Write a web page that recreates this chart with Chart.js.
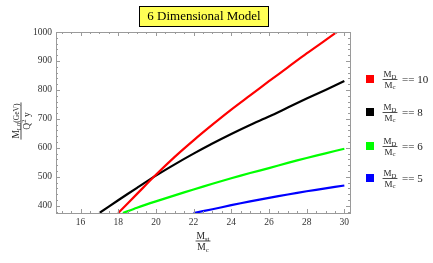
<!DOCTYPE html>
<html>
<head>
<meta charset="utf-8">
<script src="https://cdn.jsdelivr.net/npm/chart.js@4/dist/chart.umd.min.js"></script>
<style>
  html, body { margin: 0; padding: 0; background: #fff; }
  #wrap { width: 433px; height: 263px; }
</style>
</head>
<body>
<div id="wrap"><canvas id="myChart" width="433" height="263"></canvas></div>
<script>
// values
const redX = [18, 19, 20, 21, 22, 23, 24, 25, 26, 27, 28, 29, 30];
const redY = [375, 441, 507, 569, 626, 680, 732, 781, 830, 878, 926, 972, 1018];
const blackX = [17, 18, 19, 20, 21, 22, 23, 24, 25, 26, 27, 28, 29, 30];
const blackY = [375, 419, 462, 504, 543, 580, 615, 648, 679, 708, 739, 770, 800, 831];
const greenX = [18.25, 19, 20, 21, 22, 23, 24, 25, 26, 27, 28, 29, 30];
const greenY = [375, 393, 415, 436, 456, 476, 495, 513, 530, 548, 565, 581, 597];
const blueX = [22, 23, 24, 25, 26, 27, 28, 29, 30];
const blueY = [375, 388, 402, 415, 427, 439, 450, 460, 470];

const legendValues = ['10', '8', '6', '5'];
const colors = ['#ff0000', '#000000', '#00ff00', '#0000ff'];
const xTicks = [16, 18, 20, 22, 24, 26, 28, 30];
const yTicks = [400, 500, 600, 700, 800, 900, 1000];

const pts = (xs, ys) => xs.map((x, i) => ({ x: x, y: ys[i] }));
const serif = '"Liberation Serif", "DejaVu Serif", serif';

const series = [pts(redX, redY), pts(blackX, blackY), pts(greenX, greenY), pts(blueX, blueY)];

const data = {
  datasets: series.map((s, i) => ({
    label: 'MD/Mc == ' + legendValues[i],
    data: s,
    borderColor: colors[i],
    borderWidth: 2.2,
    pointRadius: 0,
    tension: 0.3,
  })),
};

// a run of text pieces: [text, scale, dy]
function runWidth(ctx, parts, size) {
  let w = 0;
  parts.forEach(([t, k]) => {
    ctx.font = (size * k) + 'px ' + serif;
    w += ctx.measureText(t).width;
  });
  return w;
}
function drawRun(ctx, parts, x, y, size) {
  let px = x;
  parts.forEach(([t, k, dy]) => {
    ctx.font = (size * k) + 'px ' + serif;
    ctx.fillText(t, px, y + dy);
    px += ctx.measureText(t).width;
  });
}
// num over den, centred at x, bar at y
function fraction(ctx, x, y, num, den, size) {
  const w1 = runWidth(ctx, num, size);
  const w2 = runWidth(ctx, den, size);
  const w = Math.max(w1, w2) + 2;
  ctx.textAlign = 'left';
  ctx.textBaseline = 'alphabetic';
  drawRun(ctx, num, x - w1 / 2, y - 2.5, size);
  ctx.fillRect(x - w / 2, y - 0.4, w, 0.8);
  drawRun(ctx, den, x - w2 / 2, y + size * 0.9, size);
}

const decor = {
  id: 'decor',
  afterDraw(chart) {
    const ctx = chart.ctx;
    const a = chart.chartArea;
    const xs = chart.scales.x, ys = chart.scales.y;
    ctx.save();

    // frame
    ctx.strokeStyle = '#9a9a9a';
    ctx.lineWidth = 1;
    ctx.strokeRect(a.left + 0.5, a.top + 0.5, a.right - a.left, a.bottom - a.top);

    // inward ticks on all sides
    ctx.beginPath();
    for (let v = 15; v <= 30; v += 0.5) {
      const px = Math.round(xs.getPixelForValue(v)) + 0.5;
      const len = v % 2 === 0 ? 4 : 2;
      ctx.moveTo(px, a.bottom); ctx.lineTo(px, a.bottom - len);
      ctx.moveTo(px, a.top); ctx.lineTo(px, a.top + len);
    }
    for (let v = 380; v <= 1000; v += 20) {
      const py = Math.round(ys.getPixelForValue(v)) + 0.5;
      const len = v % 100 === 0 ? 4 : 2;
      ctx.moveTo(a.left, py); ctx.lineTo(a.left + len, py);
      ctx.moveTo(a.right, py); ctx.lineTo(a.right - len, py);
    }
    ctx.stroke();

    // title box
    ctx.fillStyle = '#ffff55';
    ctx.fillRect(139.5, 6.5, 129, 20);
    ctx.strokeStyle = '#000';
    ctx.lineWidth = 1;
    ctx.strokeRect(139.5, 6.5, 129, 20);
    ctx.fillStyle = '#000';
    ctx.font = '13px ' + serif;
    ctx.textAlign = 'center';
    ctx.textBaseline = 'middle';
    ctx.fillText('6 Dimensional Model', 204, 17);

    // x axis title
    ctx.fillStyle = '#222';
    fraction(ctx, 203, 241, [['M', 1, 0], ['st', 0.7, 2]], [['M', 1, 0], ['c', 0.7, 2]], 9.5);

    // y axis title (rotated)
    ctx.save();
    ctx.translate(21, 121);
    ctx.rotate(-Math.PI / 2);
    fraction(ctx, 0, 0,
      [['M', 1, 0], ['L0', 0.7, 2], ['(GeV)', 0.8, 0]],
      [['Q', 1, 0], ['2', 0.7, -3.5], [' y', 1, 0]], 9.5);
    ctx.restore();

    // legend
    const rows = [79, 112, 146, 178];
    rows.forEach((cy, i) => {
      ctx.fillStyle = colors[i];
      ctx.fillRect(366, cy - 4, 8, 8);
      ctx.fillStyle = '#222';
      fraction(ctx, 390, cy + 0.5, [['M', 1, 0], ['D', 0.75, 1.5]], [['M', 1, 0], ['c', 0.75, 1.5]], 9);
      ctx.font = '11px ' + serif;
      ctx.textAlign = 'left';
      ctx.textBaseline = 'middle';
      ctx.fillText('== ' + legendValues[i], 402, cy + 1);
    });

    ctx.restore();
  },
};

const config = {
  type: 'line',
  data: data,
  options: {
    responsive: false,
    animation: false,
    layout: { padding: { top: 32, right: 83, left: 0, bottom: 0 } },
    plugins: { legend: { display: false }, tooltip: { enabled: false } },
    scales: {
      x: {
        type: 'linear',
        min: 14.7,
        max: 30.3,
        afterBuildTicks: (s) => { s.ticks = xTicks.map((v) => ({ value: v })); },
        afterFit: (s) => { s.height = 50; },
        grid: { display: false, drawTicks: false },
        border: { display: false },
        ticks: { padding: 4, color: '#333', font: { family: serif, size: 9.5 }, callback: (v) => String(v) },
      },
      y: {
        type: 'linear',
        min: 375,
        max: 1000,
        afterBuildTicks: (s) => { s.ticks = yTicks.map((v) => ({ value: v })); },
        afterFit: (s) => { s.width = 56; },
        grid: { display: false, drawTicks: false },
        border: { display: false },
        ticks: { padding: 4, color: '#333', font: { family: serif, size: 9.5 }, callback: (v) => String(v) },
      },
    },
  },
  plugins: [decor],
};

const myChart = new Chart(document.getElementById('myChart'), config);
</script>
</body>
</html>
